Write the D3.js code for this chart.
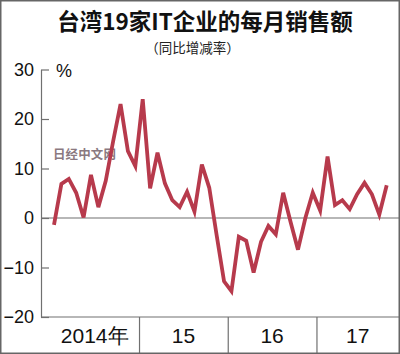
<!DOCTYPE html>
<html>
<head>
<meta charset="utf-8">
<script src="https://cdn.jsdelivr.net/npm/d3@7"></script>
<style>
  html, body { margin: 0; padding: 0; background: #fff; }
  svg { display: block; font-family: "Liberation Sans", Arial, sans-serif; }
</style>
</head>
<body>
<figure id="chart" style="margin:0"></figure>
<script>
// monthly sales, year-on-year change (%), Jan 2014 .. Oct 2017
const sales2014 = [-1.4, 6.9, 7.9, 5.1, 0.1, 8.7, 2.2, 7.5, 15.5, 23, 13.5, 10.5];
const sales2015 = [24, 6, 13.2, 7, 3.6, 2.2, 5.3, 1.3, 10.8, 6.1, -3.5, -12.8];
const sales2016 = [-14.8, -3.8, -4.6, -11, -4.8, -1.6, -3.3, 5.1, -0.8, -6.4, 0, 5.1];
const sales2017 = [1.5, 12.4, 2.6, 3.6, 1.8, 4.8, 7.1, 4.8, 0.7, 6.6];
const yearLabels = ["2014年", "15", "16", "17"];
const yTicks = [-20, -10, 0, 10, 20, 30];

const title = "台湾19家IT企业的每月销售额";
const subtitle = "（同比增减率）";

class SalesChart {
  constructor() {
    this.width = 400;
    this.height = 354;
    this.axisX = 41;
    this.plotRight = 399;
    this.lineColor = "#b73a4c";
    this.axisColor = "#707070";
  }

  init() {
    this.svg = d3.select("figure#chart").append("svg")
      .attr("width", this.width)
      .attr("height", this.height);
    this.series = sales2014.concat(sales2015, sales2016, sales2017);
    this.x = d3.scaleLinear().domain([0, 45]).range([54, 386.7]);
    this.y = d3.scaleLinear().domain([-20, 30]).range([317, 69.5]);
  }

  draw() {
    this.drawTitles();
    this.drawAxes();
    this.drawWatermark();
    this.drawLine();
    this.drawFrame();
  }

  drawTitles() {
    this.svg.append("text")
      .attr("x", 205)
      .attr("y", 30)
      .attr("text-anchor", "middle")
      .style("font-family", "'Noto Sans CJK SC', sans-serif")
      .style("font-weight", "bold")
      .style("font-size", "22.5px")
      .attr("fill", "#111")
      .text(title);

    this.svg.append("text")
      .attr("x", 192.5)
      .attr("y", 52.5)
      .attr("text-anchor", "middle")
      .style("font-family", "'Noto Sans CJK SC', sans-serif")
      .style("font-size", "13.5px")
      .attr("fill", "#222")
      .text(subtitle);
  }

  drawAxes() {
    const x = this.x, y = this.y;

    // y axis, ticks pointing inward
    const yAxis = d3.axisLeft(y)
      .tickValues(yTicks)
      .tickSize(-8)
      .tickSizeOuter(0)
      .tickPadding(7)
      .tickFormat(d3.format("d"));
    const gy = this.svg.append("g")
      .attr("transform", `translate(${this.axisX},0)`)
      .call(yAxis);
    gy.selectAll("path, line").attr("stroke", this.axisColor).attr("stroke-width", 1.2);
    gy.selectAll("text")
      .attr("fill", "#111")
      .style("font-size", "18px")
      .style("font-family", "'Liberation Sans', Arial, sans-serif");

    this.svg.append("text")
      .attr("x", 56)
      .attr("y", 76.5)
      .style("font-size", "18px")
      .attr("fill", "#111")
      .text("%");

    // zero line and bottom line
    [0, -20].forEach((v) => {
      this.svg.append("line")
        .attr("x1", this.axisX).attr("x2", this.plotRight)
        .attr("y1", y(v)).attr("y2", y(v))
        .attr("stroke", this.axisColor)
        .attr("stroke-width", 1.2);
    });

    // year separators below the plot
    const xAxis = d3.axisBottom(x)
      .tickValues([11.5, 23.5, 35.5])
      .tickSize(37)
      .tickSizeOuter(0)
      .tickFormat("");
    const gx = this.svg.append("g")
      .attr("transform", `translate(0,${y(-20)})`)
      .call(xAxis);
    gx.select(".domain").remove();
    gx.selectAll("line").attr("stroke", this.axisColor).attr("stroke-width", 1.2);

    // year labels centered in the visible part of each year
    yearLabels.forEach((label, k) => {
      const left = Math.max(x(12 * k - 0.5), this.axisX);
      const right = Math.min(x(12 * k + 11.5), this.plotRight);
      this.svg.append("text")
        .attr("x", (left + right) / 2)
        .attr("y", 343)
        .attr("text-anchor", "middle")
        .style("font-size", "21px")
        .attr("fill", "#111")
        .text(label);
    });
  }

  drawWatermark() {
    this.svg.append("text")
      .attr("x", 53)
      .attr("y", 159)
      .attr("textLength", 63)
      .attr("lengthAdjust", "spacing")
      .style("font-family", "'Noto Sans CJK SC', sans-serif")
      .style("font-weight", "bold")
      .style("font-size", "12.5px")
      .attr("fill", "#8a7980")
      .attr("stroke", "#ffffff")
      .attr("stroke-width", 2.5)
      .attr("stroke-linejoin", "round")
      .style("paint-order", "stroke")
      .text("日经中文网");
  }

  drawLine() {
    const line = d3.line()
      .x((d, i) => this.x(i))
      .y((d) => this.y(d));
    this.svg.append("path")
      .datum(this.series)
      .attr("d", line)
      .attr("fill", "none")
      .attr("stroke", this.lineColor)
      .attr("stroke-width", 3.8)
      .attr("stroke-linejoin", "miter");
  }

  drawFrame() {
    this.svg.append("rect")
      .attr("x", 0.75).attr("y", 0.75)
      .attr("width", 398.5).attr("height", 352.5)
      .attr("fill", "none")
      .attr("stroke", "#666")
      .attr("stroke-width", 1.5);
  }
}

const chart = new SalesChart();
chart.init();
chart.draw();
</script>
</body>
</html>
